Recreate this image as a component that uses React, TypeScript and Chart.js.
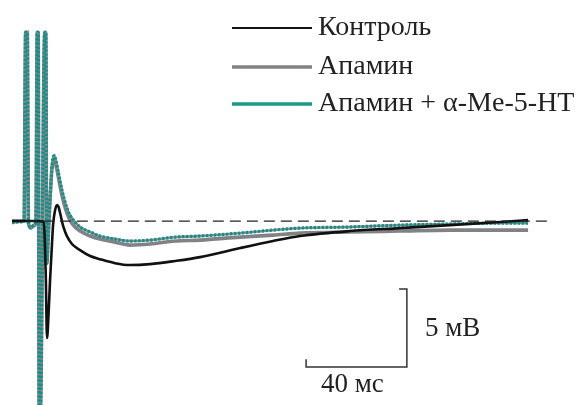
import React, { useEffect, useRef } from "react";
import { Chart, registerables } from "chart.js";

Chart.register(...registerables);

// Time (ms) and membrane potential (mV) samples
const controlT = [0, 4, 8, 12.6, 13.4, 13.9, 14.5, 15.1, 15.7, 16.3, 17.1, 17.9, 18.5, 19.0, 19.6, 20.2, 21.0, 21.8, 23.8, 27.0, 31.0, 34.9, 40.9, 46.8, 54.8, 64.7, 74.6, 90.5, 103.6, 114.3, 134.0, 154.0, 173.8, 193.7, 204.8];
const controlV = [0, 0, 0, -0.05, -3.5, -7.5, -6.0, -3.8, -2.0, -0.26, 0.7, 1.03, 0.9, 0.58, 0.15, -0.26, -0.65, -0.96, -1.47, -1.86, -2.24, -2.44, -2.7, -2.82, -2.76, -2.56, -2.31, -1.73, -1.28, -0.96, -0.64, -0.45, -0.26, -0.06, 0.06];

const apaminT = [0, 3.2, 4.8, 5.4, 6.1, 6.5, 7.5, 8.7, 9.5, 10.0, 10.4, 10.8, 11.2, 13.0, 13.4, 13.8, 14.5, 15.2, 15.9, 16.7, 17.4, 18.3, 19.8, 21.4, 23.0, 25.0, 27.0, 31.0, 34.9, 40.9, 46.8, 54.8, 64.7, 74.6, 90.5, 103.6, 114.3, 134.0, 154.0, 173.8, 193.7, 204.8];
const apaminV = [0, 0, 0, 12.1, 12.1, -0.1, -0.45, -0.3, -0.05, 12.1, 12.1, -12.5, -12.5, 12.1, 12.1, -2.7, -0.6, 1.67, 3.4, 3.9, 3.6, 2.9, 1.67, 0.7, 0.06, -0.38, -0.64, -0.96, -1.15, -1.35, -1.54, -1.47, -1.28, -1.22, -1.03, -0.9, -0.77, -0.7, -0.64, -0.58, -0.58, -0.58];

const apaminMeT = [0, 3.2, 4.8, 5.4, 6.1, 6.5, 7.5, 8.7, 9.5, 10.0, 10.4, 10.8, 11.2, 13.0, 13.4, 13.8, 14.5, 15.2, 15.9, 16.7, 17.4, 18.3, 19.8, 21.4, 23.0, 25.0, 27.0, 31.0, 34.9, 40.9, 46.8, 54.8, 64.7, 74.6, 90.5, 103.6, 114.3, 134.0, 154.0, 173.8, 193.7, 204.8];
const apaminMeV = [-0.1, -0.05, 0, 12.1, 12.1, -0.1, -0.4, -0.25, -0.05, 12.1, 12.1, -12.5, -12.5, 12.1, 12.1, -2.7, -0.5, 1.8, 3.6, 4.2, 3.9, 3.2, 2.0, 1.03, 0.38, -0.06, -0.38, -0.7, -0.96, -1.15, -1.28, -1.22, -1.03, -0.96, -0.77, -0.58, -0.45, -0.38, -0.26, -0.19, -0.13, -0.13];

const baselineT = [5.5, 212.7];
const baselineV = [0, 0];

// Scale bar: 40 ms horizontal, 5 mV vertical
const scaleBarT = [153.6, 156.7, 156.7, 116.7, 116.7];
const scaleBarV = [-4.36, -4.36, -9.36, -9.36, -8.85];

const legendLabels = ["Контроль", "Апамин", "Апамин + α-Me-5-HT"];
const legendColors = ["#111111", "#808285", "#1a9a86"];
const scaleLabels = ["5 мВ", "40 мс"];

const xMin = -4.76;
const xMax = 227.78;
const yMax = 14.17;
const yMin = -11.79;

const toXY = (t: number[], v: number[]) => t.map((x, i) => ({ x, y: v[i] }));

export default function App() {
  const ref = useRef<HTMLCanvasElement | null>(null);

  useEffect(() => {
    if (!ref.current) return;
    const textPlugin = {
      id: "annotations",
      afterDraw(chart: any) {
        const ctx = chart.ctx;
        ctx.save();
        const rows = [28, 67, 104];
        const widths = [2, 3.5, 3.5];
        ctx.textBaseline = "middle";
        ctx.textAlign = "left";
        legendLabels.forEach((lab, i) => {
          ctx.strokeStyle = legendColors[i];
          ctx.lineWidth = widths[i];
          ctx.beginPath();
          ctx.moveTo(232, rows[i]);
          ctx.lineTo(312, rows[i]);
          ctx.stroke();
          ctx.fillStyle = "#222";
          ctx.font = "28px 'Liberation Serif', 'Times New Roman', serif";
          ctx.fillText(lab, 318, rows[i]);
        });
        ctx.font = "27px 'Liberation Serif', 'Times New Roman', serif";
        ctx.fillText(scaleLabels[0], 425, 329);
        ctx.fillText(scaleLabels[1], 321, 385);
        ctx.restore();
      },
    };

    const chart = new Chart(ref.current, {
      type: "line",
      data: {
        datasets: [
          {
            label: "baseline",
            data: toXY(baselineT, baselineV),
            borderColor: "#222222",
            borderWidth: 1.3,
            borderDash: [11, 6],
            pointRadius: 0,
            order: -1,
          },
          {
            label: legendLabels[0],
            data: toXY(controlT, controlV),
            borderColor: "#111111",
            borderWidth: 2.6,
            pointRadius: 0,
            cubicInterpolationMode: "monotone",
            order: 0,
          },
          {
            label: legendLabels[2],
            data: toXY(apaminMeT, apaminMeV),
            borderColor: "#178f88",
            borderWidth: 3.2,
            borderDash: [2.5, 1.5],
            pointRadius: 0,
            cubicInterpolationMode: "monotone",
            order: 1,
          },
          {
            label: "underlay",
            data: toXY(apaminMeT, apaminMeV),
            borderColor: "#8a8c8e",
            borderWidth: 2.4,
            pointRadius: 0,
            cubicInterpolationMode: "monotone",
            order: 2,
          },
          {
            label: legendLabels[1],
            data: toXY(apaminT, apaminV),
            borderColor: "#808285",
            borderWidth: 3.6,
            pointRadius: 0,
            cubicInterpolationMode: "monotone",
            order: 3,
          },
          {
            label: "scale",
            data: toXY(scaleBarT, scaleBarV),
            borderColor: "#333333",
            borderWidth: 1.5,
            pointRadius: 0,
            order: 4,
          },
        ],
      },
      options: {
        animation: false,
        responsive: false,
        maintainAspectRatio: false,
        devicePixelRatio: 1,
        layout: { padding: 0 },
        plugins: { legend: { display: false }, tooltip: { enabled: false } },
        scales: {
          x: { type: "linear", min: xMin, max: xMax, display: false },
          y: { type: "linear", min: yMin, max: yMax, display: false },
        },
      } as any,
      plugins: [textPlugin],
    });
    return () => chart.destroy();
  }, []);

  return (
    <div style={{ position: "absolute", left: 0, top: 0, width: 586, height: 405, background: "#fff" }}>
      <canvas ref={ref} width={586} height={405} style={{ display: "block" }} />
    </div>
  );
}
